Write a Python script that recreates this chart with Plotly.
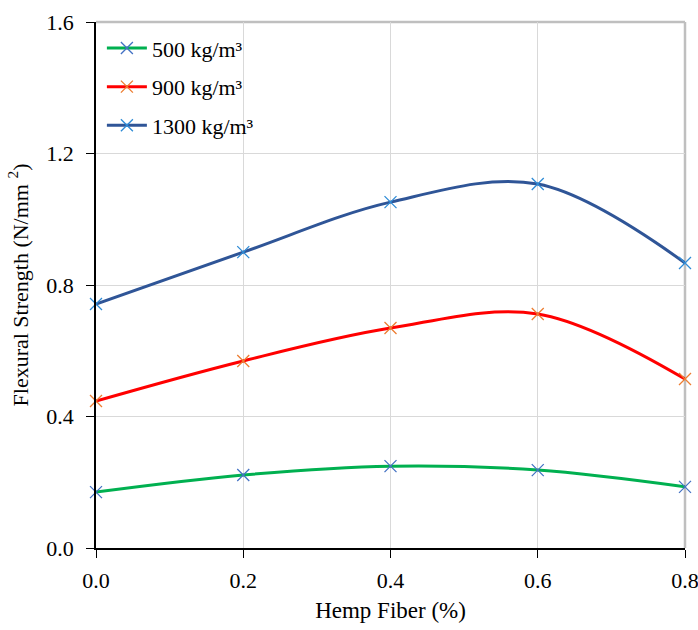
import plotly.graph_objects as go

fiber = [0.0, 0.2, 0.4, 0.6, 0.8]
s500 = [0.170, 0.222, 0.249, 0.237, 0.186]
s900 = [0.447, 0.569, 0.669, 0.712, 0.514]
s1300 = [0.742, 0.900, 1.052, 1.107, 0.867]
names = ["500 kg/m³", "900 kg/m³", "1300 kg/m³"]
line_colors = ["#00b050", "#ff0000", "#2f5597"]
marker_colors = ["#4472c4", "#ed7d31", "#2e8bd6"]
x_ticks = [0.0, 0.2, 0.4, 0.6, 0.8]
y_ticks = [0.0, 0.4, 0.8, 1.2, 1.6]

FONT = "Liberation Serif"

fig = go.Figure()
for i, (ys, nm) in enumerate(zip([s500, s900, s1300], names)):
    fig.add_trace(go.Scatter(
        x=fiber, y=ys, name=nm, mode="lines+markers",
        line=dict(color=line_colors[i], width=3, shape="spline", smoothing=1.0),
        marker=dict(symbol="x-thin", size=12, line=dict(color=marker_colors[i], width=1.3),
                    color=marker_colors[i]),
        legendgroup=str(i), cliponaxis=False,
    ))

fig.update_layout(
    width=698, height=630,
    margin=dict(l=96, r=13, t=22, b=82, autoexpand=False),
    paper_bgcolor="white", plot_bgcolor="white",
    font=dict(family=FONT, size=22, color="black"),
    showlegend=True,
    legend=dict(x=0.01, y=0.99, xanchor="left", yanchor="top",
                bgcolor="rgba(0,0,0,0)", font=dict(size=22, family=FONT),
                traceorder="grouped", tracegroupgap=7, itemwidth=40),
    xaxis=dict(range=[0, 0.8], tickvals=x_ticks, ticktext=[f"{v:.1f}" for v in x_ticks],
               showgrid=True, gridcolor="#d9d9d9", gridwidth=1,
               showline=True, linecolor="black", linewidth=1.5,
               ticks="outside", ticklen=8, tickcolor="black", zeroline=False,
               ticklabelstandoff=4, automargin=False, ticklabeloverflow="allow",
               title=dict(text="Hemp Fiber (%)", font=dict(size=23, family=FONT), standoff=10)),
    yaxis=dict(range=[0, 1.6], tickvals=y_ticks, ticktext=[f"{v:.1f}" for v in y_ticks],
               showgrid=True, gridcolor="#d9d9d9", gridwidth=1,
               showline=True, linecolor="black", linewidth=1.5,
               ticks="outside", ticklen=8, tickcolor="black", zeroline=False,
               ticklabelstandoff=8, automargin=False, ticklabeloverflow="allow",
               title=dict(text="Flexural Strength (N/mm <sup>2</sup>)", font=dict(size=22, family=FONT), standoff=12)),
    shapes=[
        dict(type="line", xref="paper", yref="paper", x0=0, x1=1, y0=1, y1=1,
             line=dict(color="#bfbfbf", width=2.5), layer="below"),
        dict(type="line", xref="paper", yref="paper", x0=1, x1=1, y0=0, y1=1,
             line=dict(color="#bfbfbf", width=2.5), layer="below"),
    ],
)

html = fig.to_html(full_html=True, include_plotlyjs=True, config={"displayModeBar": False})
html = html.replace("<head>", "<head><style>html,body{margin:0;padding:0;overflow:hidden;}</style>", 1)
with open("out.html", "w", encoding="utf-8") as f:
    f.write(html)
